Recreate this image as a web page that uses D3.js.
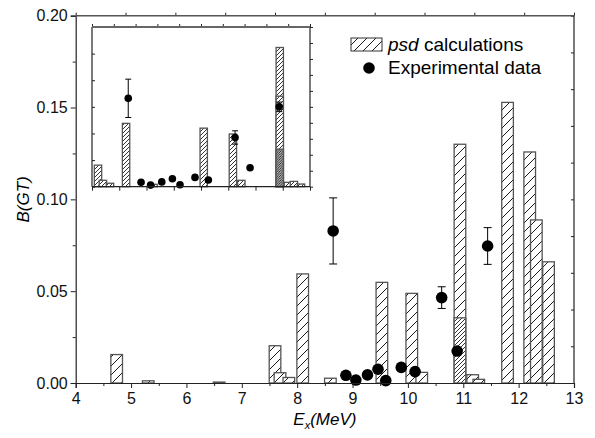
<!DOCTYPE html>
<html><head><meta charset="utf-8">
<script src="https://cdn.jsdelivr.net/npm/d3@7"></script>
<style>
html,body{margin:0;padding:0;background:#fff;}
svg{display:block;font-family:"Liberation Sans",Arial,sans-serif;}
</style></head>
<body><div id="chart"></div>
<script>
// ---- main panel data ----
const calcE = [4.74, 5.31, 6.59, 7.60, 7.69, 7.85, 8.10, 8.60, 9.53, 10.07, 10.25, 10.94, 11.07, 11.17, 11.28, 11.80, 12.20, 12.32, 12.54];
const calcB = [0.0155, 0.0012, 0.0005, 0.0203, 0.0056, 0.0030, 0.0594, 0.0026, 0.0548, 0.0488, 0.0058, 0.1300, 0.0045, 0.0045, 0.0020, 0.1528, 0.1258, 0.0888, 0.0660];
const calcDenseE = [10.94];
const calcDenseB = [0.0355];
const expE = [8.65, 8.88, 9.06, 9.27, 9.46, 9.60, 9.88, 10.13, 10.61, 10.89, 11.44];
const expB = [0.0828, 0.0042, 0.0016, 0.0044, 0.0075, 0.0013, 0.0085, 0.0062, 0.0465, 0.0174, 0.0746];
const expErr = [0.0180, 0, 0, 0, 0, 0, 0, 0, 0.0059, 0, 0.0100];
const xTicks = [4, 5, 6, 7, 8, 9, 10, 11, 12, 13];
const yTicks = [0.00, 0.05, 0.10, 0.15, 0.20];
const legendLabels = ["psd", " calculations", "Experimental data"];

// ---- inset data (no tick labels in the reference; arbitrary units) ----
const insetCalcX = [0.22, 0.40, 0.66, 1.25, 2.26, 4.10, 5.17, 5.48, 6.89, 6.89, 7.19, 7.41, 7.67];
const insetCalcY = [8.1, 2.4, 1.3, 23.8, 0.9, 22.0, 19.8, 2.4, 52.3, 34.0, 1.65, 2.0, 1.0];
const insetDenseX = [6.89];
const insetDenseY = [14.1];
const insetExpX = [1.33, 1.80, 2.15, 2.56, 2.95, 3.23, 3.78, 4.27, 5.25, 5.80, 6.87];
const insetExpY = [33.2, 1.65, 0.6, 1.8, 3.0, 0.75, 3.5, 2.5, 18.5, 7.1, 30.0];
const insetExpErr = [7.2, 0, 0, 0, 0, 0, 0, 0, 2.5, 0, 1.8];

const W = 595, H = 438;
const svg = d3.select("#chart").append("svg").attr("width", W).attr("height", H);
const defs = svg.append("defs");
function hatch(id, size, sw) {
  const p = defs.append("pattern").attr("id", id).attr("patternUnits", "userSpaceOnUse")
    .attr("width", size).attr("height", size);
  p.append("rect").attr("width", size).attr("height", size).attr("fill", "#fff");
  p.append("path").attr("d", `M${-size},${size} L${size},${-size} M0,${2*size} L${2*size},0 M0,${size} L${size},0`)
    .attr("stroke", "#000").attr("stroke-width", sw);
}
hatch("h-main", 9, 0.9);
hatch("h-dense", 4, 0.8);
hatch("h-inset", 4, 0.8);
hatch("h-inset-dense", 2.4, 0.9);

const L = 75.7, R = 574, T = 15.7, B = 383;
const x = d3.scaleLinear().domain([4, 13]).range([L, R]);
const y = d3.scaleLinear().domain([0, 0.2]).range([B, T]);
const axisColor = "#222";

// bars
const bw = 0.21;
const g = svg.append("g");
function drawBars(sel, xs, ys, xs_, ys_, w, fill) {
  sel.selectAll(null).data(xs.map((v, i) => [v, ys[i]])).enter().append("rect")
    .attr("x", d => xs_(d[0] - w / 2)).attr("width", d => xs_(d[0] + w / 2) - xs_(d[0] - w / 2))
    .attr("y", d => ys_(d[1])).attr("height", d => ys_(0) - ys_(d[1]))
    .attr("fill", fill).attr("stroke", "#555").attr("stroke-width", 1.3);
}
drawBars(g, calcE, calcB, x, y, bw, "url(#h-main)");
drawBars(g, calcDenseE, calcDenseB, x, y, bw, "url(#h-dense)");

// experimental points
function drawPoints(sel, xs, ys, es, xs_, ys_, r, cap) {
  const pts = xs.map((v, i) => [v, ys[i], es[i]]);
  pts.filter(d => d[2] > 0).forEach(d => {
    const gg = sel.append("g").attr("stroke", "#000").attr("stroke-width", 1);
    gg.append("line").attr("x1", xs_(d[0])).attr("x2", xs_(d[0])).attr("y1", ys_(d[1] - d[2])).attr("y2", ys_(d[1] + d[2]));
    gg.append("line").attr("x1", xs_(d[0]) - cap).attr("x2", xs_(d[0]) + cap).attr("y1", ys_(d[1] - d[2])).attr("y2", ys_(d[1] - d[2]));
    gg.append("line").attr("x1", xs_(d[0]) - cap).attr("x2", xs_(d[0]) + cap).attr("y1", ys_(d[1] + d[2])).attr("y2", ys_(d[1] + d[2]));
  });
  sel.selectAll(null).data(pts).enter().append("circle")
    .attr("cx", d => xs_(d[0])).attr("cy", d => ys_(d[1])).attr("r", r).attr("fill", "#000");
}
drawPoints(g, expE, expB, expErr, x, y, 5.8, 4);

// main axes
const bottom = svg.append("g").attr("transform", `translate(0,${B})`)
  .call(d3.axisBottom(x).tickValues(xTicks).tickFormat(d3.format("d")).tickSize(5).tickPadding(5));
const bottomMinor = svg.append("g").attr("transform", `translate(0,${B})`)
  .call(d3.axisBottom(x).tickValues(d3.range(4.5, 13, 1)).tickFormat("").tickSize(3));
const left = svg.append("g").attr("transform", `translate(${L},0)`)
  .call(d3.axisLeft(y).tickValues(yTicks).tickFormat(d3.format(".2f")).tickSize(5).tickPadding(3));
const leftMinor = svg.append("g").attr("transform", `translate(${L},0)`)
  .call(d3.axisLeft(y).tickValues(d3.range(0.025, 0.2, 0.05)).tickFormat("").tickSize(3));
const topAx = svg.append("g").attr("transform", `translate(0,${T})`)
  .call(d3.axisTop(x).tickValues(d3.range(4, 13.01, 0.9)).tickFormat("").tickSize(3));
const rightAx = svg.append("g").attr("transform", `translate(${R},0)`)
  .call(d3.axisLeft(y).tickValues(d3.range(0, 0.2001, 0.02)).tickFormat("").tickSize(3));
[bottom, bottomMinor, left, leftMinor, topAx, rightAx].forEach(a => {
  a.selectAll("path").attr("stroke", axisColor).attr("stroke-width", 1.2);
  a.selectAll("line").attr("stroke", axisColor);
  a.selectAll("text").attr("font-size", 16).attr("fill", "#111").attr("font-family", "Liberation Sans, Arial, sans-serif");
});
[bottomMinor, leftMinor, topAx, rightAx].forEach(a => a.select("path").remove());
svg.append("line").attr("x1", L).attr("x2", R).attr("y1", T).attr("y2", T).attr("stroke", "#555").attr("stroke-width", 1.6);
svg.append("line").attr("x1", R).attr("x2", R).attr("y1", T).attr("y2", B).attr("stroke", axisColor).attr("stroke-width", 1.2);

// axis titles
svg.append("text").attr("transform", `translate(29,${(T + B) / 2}) rotate(-90)`)
  .attr("text-anchor", "middle").attr("font-size", 17).attr("font-style", "italic").text("B(GT)");
const xt = svg.append("text").attr("x", (L + R) / 2).attr("y", 425).attr("text-anchor", "middle")
  .attr("font-size", 17).attr("font-style", "italic");
xt.append("tspan").text("E");
xt.append("tspan").attr("font-size", 11).attr("dy", 4).text("x");
xt.append("tspan").attr("dy", -4).text("(MeV)");

// legend
const lg = svg.append("g");
lg.append("rect").attr("x", 351).attr("y", 38).attr("width", 31).attr("height", 13)
  .attr("fill", "url(#h-main)").attr("stroke", "#333").attr("stroke-width", 1);
const lt = lg.append("text").attr("x", 388).attr("y", 51).attr("font-size", 19);
lt.append("tspan").attr("font-style", "italic").text(legendLabels[0]);
lt.append("tspan").text(legendLabels[1]);
lg.append("circle").attr("cx", 369).attr("cy", 68).attr("r", 5.8).attr("fill", "#000");
lg.append("text").attr("x", 388).attr("y", 74).attr("font-size", 19).text(legendLabels[2]);

// ---- inset ----
const iL = 92, iR = 310, iT = 27, iB = 186.7;
const ix = d3.scaleLinear().domain([0, 8]).range([iL, iR]);
const iy = d3.scaleLinear().domain([0, 60]).range([iB, iT]);
const ig = svg.append("g");
ig.append("rect").attr("x", iL).attr("y", iT).attr("width", iR - iL).attr("height", iB - iT).attr("fill", "#fff");
drawBars(ig, insetCalcX, insetCalcY, ix, iy, 0.27, "url(#h-inset)");
drawBars(ig, insetDenseX, insetDenseY, ix, iy, 0.27, "url(#h-inset-dense)");
drawPoints(ig, insetExpX, insetExpY, insetExpErr, ix, iy, 3.8, 3);
const ib = ig.append("g").attr("transform", `translate(0,${iB})`).call(d3.axisBottom(ix).ticks(8).tickFormat("").tickSize(4));
const il = ig.append("g").attr("transform", `translate(${iL},0)`).call(d3.axisRight(iy).tickValues(d3.range(0, 60.1, 10)).tickFormat("").tickSize(3));
const it = ig.append("g").attr("transform", `translate(0,${iT})`).call(d3.axisTop(ix).tickValues(d3.range(0, 8.01, 0.8)).tickFormat("").tickSize(3));
const ir = ig.append("g").attr("transform", `translate(${iR},0)`).call(d3.axisRight(iy).tickValues(d3.range(0, 60.1, 6)).tickFormat("").tickSize(3));
[ib, il, it, ir].forEach(a => {
  a.selectAll("path").remove();
  a.selectAll("line").attr("stroke", axisColor);
});
ig.append("line").attr("x1", iL).attr("x2", iR).attr("y1", iB).attr("y2", iB).attr("stroke", axisColor).attr("stroke-width", 1.2);
ig.append("line").attr("x1", iL).attr("x2", iL).attr("y1", iT).attr("y2", iB).attr("stroke", axisColor).attr("stroke-width", 1.2);
ig.append("line").attr("x1", iR).attr("x2", iR).attr("y1", iT).attr("y2", iB).attr("stroke", axisColor).attr("stroke-width", 1.2);
ig.append("line").attr("x1", iL).attr("x2", iR).attr("y1", iT).attr("y2", iT).attr("stroke", "#666").attr("stroke-width", 1.8);
</script></body></html>
